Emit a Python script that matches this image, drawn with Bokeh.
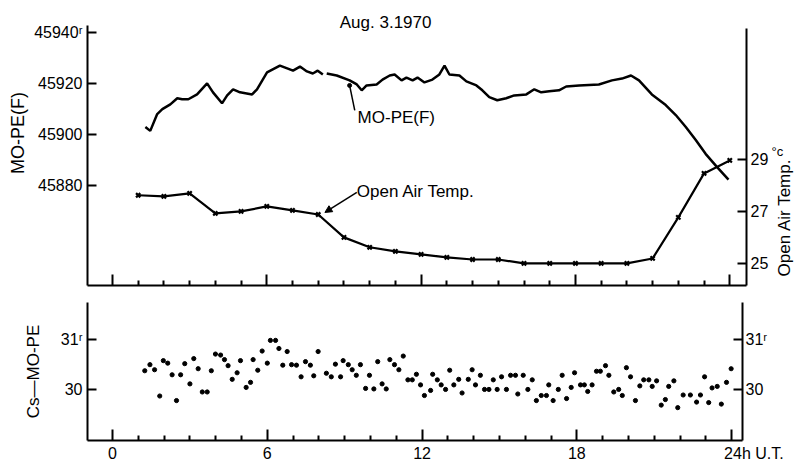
import math
import numpy as np
from bokeh.plotting import figure
from bokeh.layouts import column, row
from bokeh.models import Range1d, LinearAxis, FixedTicker, Label, Arrow, NormalHead
from bokeh.embed import file_html
from bokeh.resources import INLINE

# ---- data -------------------------------------------------------------
# MO-PE(F) frequency record (hours U.T., value); NaN marks the break in the trace
mope_hour = [1.28, 1.47, 1.74, 1.94, 2.25, 2.52, 2.71, 2.95, 3.29, 3.68, 3.91, 4.26,
             4.46, 4.69, 4.96, 5.43, 5.62, 6.01, 6.51, 6.82, 7.02, 7.29, 7.56, 7.79,
             7.98, 8.18, 8.25,
             8.33, 8.72, 9.22, 9.50, 9.69, 9.88, 10.27, 10.50, 10.78, 10.97, 11.24,
             11.43, 11.67, 11.86, 12.13, 12.44, 12.71, 12.91, 13.10, 13.49, 13.76,
             14.15, 14.38, 14.65, 14.96, 15.31, 15.62, 16.09, 16.40, 16.67, 16.98,
             17.36, 17.64, 18.14, 18.91, 19.42, 19.81, 20.16, 20.47, 20.97, 21.51,
             21.90, 22.29, 22.67, 23.06, 23.49, 23.95]
mope_value = [45902.9, 45901.4, 45908.0, 45909.9, 45911.8, 45914.2, 45913.8, 45913.8,
              45915.7, 45920.0, 45916.5, 45912.2, 45915.3, 45917.7, 45916.5, 45915.7,
              45917.7, 45924.3, 45927.0, 45925.8, 45925.0, 45926.6, 45924.7, 45923.9,
              45925.0, 45923.5, np.nan,
              45923.9, 45923.1, 45921.2, 45919.6, 45917.3, 45919.2, 45919.6, 45921.5,
              45923.1, 45923.5, 45921.2, 45922.3, 45921.2, 45922.3, 45920.4, 45921.5,
              45923.5, 45927.0, 45923.5, 45923.1, 45920.8, 45919.2, 45917.3, 45914.6,
              45913.4, 45914.2, 45915.3, 45915.7, 45917.7, 45916.5, 45916.9, 45917.3,
              45918.8, 45919.2, 45919.6, 45921.2, 45921.9, 45923.1, 45921.2, 45915.7,
              45911.5, 45907.6, 45902.9, 45897.9, 45892.4, 45887.4, 45882.3]

# Open air temperature, hourly (deg C)
temp_hour = list(range(1, 25))
temp_value = [27.62, 27.58, 27.69, 26.92, 27.00, 27.19, 27.04, 26.88, 26.00, 25.62,
              25.46, 25.35, 25.23, 25.15, 25.15, 25.00, 25.00, 25.00, 25.00, 25.00,
              25.19, 26.77, 28.46, 28.96]

# Cs - MO-PE differences
cs_hour = [1.25, 1.45, 1.63, 1.83, 1.97, 2.14, 2.31, 2.48, 2.64, 2.80, 3.00, 3.15,
           3.32, 3.48, 3.67, 3.83, 3.99, 4.19, 4.34, 4.48, 4.64, 4.83, 4.96, 5.18,
           5.35, 5.45, 5.63, 5.80, 6.00, 6.12, 6.32, 6.45, 6.60, 6.77, 6.94, 7.13,
           7.31, 7.48, 7.67, 7.80, 7.97, 8.29, 8.48, 8.64, 8.84, 8.94, 9.14, 9.29,
           9.45, 9.61, 9.81, 9.96, 10.13, 10.28, 10.45, 10.61, 10.75, 10.93, 11.10,
           11.27, 11.45, 11.62, 11.78, 11.94, 12.09, 12.33, 12.41, 12.59, 12.74,
           12.91, 13.07, 13.23, 13.42, 13.55, 13.79, 13.94, 14.07, 14.26, 14.42,
           14.59, 14.76, 14.91, 15.08, 15.27, 15.43, 15.62, 15.71, 15.92, 16.10,
           16.27, 16.43, 16.62, 16.82, 16.91, 17.08, 17.28, 17.43, 17.60, 17.78,
           17.91, 18.14, 18.29, 18.42, 18.59, 18.76, 18.91, 19.11, 19.24, 19.43,
           19.62, 19.76, 19.92, 20.08, 20.27, 20.44, 20.59, 20.79, 20.92, 21.09,
           21.27, 21.43, 21.56, 21.76, 21.91, 22.12, 22.40, 22.64, 22.79, 22.95,
           23.11, 23.24, 23.44, 23.60, 23.80, 23.98]
cs_value = [30.38, 30.50, 30.40, 29.88, 30.58, 30.53, 30.30, 29.79, 30.30, 30.52, 30.12,
            30.62, 30.42, 29.96, 29.96, 30.38, 30.71, 30.69, 30.60, 30.48, 30.21, 30.34,
            30.58, 30.05, 30.15, 30.60, 30.39, 30.77, 30.53, 30.98, 30.98, 30.82, 30.49,
            30.76, 30.50, 30.49, 30.26, 30.56, 30.49, 30.28, 30.76, 30.33, 30.26, 30.51,
            30.26, 30.58, 30.50, 30.40, 30.29, 30.50, 30.03, 30.29, 30.02, 30.56, 30.12,
            30.02, 30.60, 30.50, 30.40, 30.67, 30.20, 30.20, 30.31, 30.10, 29.89, 29.99,
            30.31, 30.20, 30.10, 30.01, 30.39, 30.10, 30.21, 29.94, 30.21, 30.40, 30.10,
            30.29, 30.01, 30.01, 30.20, 30.01, 30.26, 30.01, 30.29, 30.29, 29.92, 30.29,
            30.01, 30.20, 29.79, 29.89, 29.89, 30.10, 29.79, 30.01, 30.29, 29.83, 30.05,
            30.34, 30.10, 30.10, 29.97, 30.10, 30.37, 30.37, 30.48, 30.29, 29.96, 30.01,
            29.89, 30.44, 30.26, 29.79, 30.08, 30.20, 30.20, 30.07, 30.18, 29.70, 29.81,
            30.07, 30.18, 29.65, 29.90, 29.90, 29.76, 29.90, 30.26, 29.75, 30.04, 30.07,
            29.72, 30.15, 30.42]

hour_ticks = [0, 6, 12, 18, 24]
hour_minor = [h for h in range(1, 24) if h % 6]
mope_ticks = [45880, 45900, 45920, 45940]
temp_ticks = [25, 27, 29]
cs_ticks = [30, 31]

FONT = "Liberation Sans"
SIZE = "16px"
NBSP = "\u00a0"

MOPE_RANGE = (45840.8, 45952.5)
TEMP_RANGE = (24.15, 35.11)


def style_axis(ax, ticks, minor=None, tick_in=9):
    ax.ticker = FixedTicker(ticks=ticks, minor_ticks=minor or [])
    ax.axis_line_width = 2
    ax.axis_line_color = "black"
    ax.major_tick_line_width = 2
    ax.major_tick_line_color = "black"
    ax.minor_tick_line_width = 2
    ax.minor_tick_line_color = "black"
    ax.major_tick_in = tick_in
    ax.major_tick_out = 0
    ax.minor_tick_in = 5
    ax.minor_tick_out = 0
    ax.major_label_text_font = FONT
    ax.major_label_text_font_size = SIZE
    ax.major_label_text_color = "black"
    ax.major_label_standoff = 5
    ax.axis_label_text_font = FONT
    ax.axis_label_text_font_style = "normal"
    ax.axis_label_text_color = "black"


def add_text(p, text, x, y, size=SIZE, align="left", baseline="middle", angle=0.0,
             style="normal", yr="default"):
    p.add_layout(Label(x=x, y=y, text=text, text_font=FONT, text_font_size=size,
                       text_align=align, text_baseline=baseline, angle=angle,
                       text_font_style=style, text_color="black", y_range_name=yr))


# ---- upper panel: MO-PE(F) and open air temperature ----------------------
# the frame reaches the top of the canvas so the date fits inside it;
# axis bounds keep the vertical axis lines at their own length
top = figure(width=771, height=290, x_range=Range1d(-0.97, 24.65),
             y_range=Range1d(*MOPE_RANGE), output_backend="svg",
             toolbar_location=None, min_border_left=87, min_border_right=23,
             min_border_top=0, min_border_bottom=5)
top.extra_y_ranges = {"temp": Range1d(*TEMP_RANGE)}
top.grid.visible = False
top.outline_line_color = None

style_axis(top.xaxis[0], hour_ticks, hour_minor, tick_in=11)
top.xaxis.major_label_overrides = {t: "" for t in hour_ticks}
top.xaxis.major_label_text_font_size = "1px"
top.xaxis.major_label_standoff = 0

left_top = top.yaxis[0]
style_axis(left_top, mope_ticks)
left_top.bounds = (45840.8, 45942.7)
left_top.major_label_overrides = {45940: "45940\u02b3"}
left_top.axis_label = NBSP * 4 + "MO-PE(F)"
left_top.axis_label_text_font_size = "18px"
left_top.axis_label_standoff = 3

temp_axis = LinearAxis(y_range_name="temp")
style_axis(temp_axis, temp_ticks)
temp_axis.bounds = (24.15, 34.04)
temp_axis.major_label_standoff = 4
top.add_layout(temp_axis, "right")

top.line(mope_hour, mope_value, line_color="black", line_width=2.5)
top.line(temp_hour, temp_value, line_color="black", line_width=2.2, y_range_name="temp")
top.scatter(temp_hour, temp_value, marker="x", size=6, line_color="black",
            line_width=2.2, y_range_name="temp")

add_text(top, "Aug. 3.1970", 10.62, 45943.9, size="17px", align="center")

# curve labels with their leaders
add_text(top, "MO-PE(F)", 9.53, 45906.8, size="17px")
top.segment(x0=[9.22], y0=[45919.2], x1=[9.42], y1=[45909.4],
            line_color="black", line_width=1.5)
top.scatter([9.22], [45919.2], size=4, color="black")
add_text(top, "Open Air Temp.", 9.50, 27.77, size="17px", yr="temp")
top.add_layout(Arrow(end=NormalHead(size=7, fill_color="black", line_color="black"),
                     x_start=9.50, y_start=27.73, x_end=8.26, y_end=26.96,
                     line_width=1.5, line_color="black", y_range_name="temp"))

# narrow strip right of the upper panel: unit mark and temperature axis title
strip = figure(width=24, height=290, x_range=Range1d(25.54, 26.47),
               y_range=Range1d(*TEMP_RANGE), output_backend="svg",
               toolbar_location=None, x_axis_type=None, y_axis_type=None,
               min_border_left=0, min_border_right=0, min_border_top=0,
               min_border_bottom=5)
strip.grid.visible = False
strip.outline_line_color = None
add_text(strip, "\u00b0c", 25.54, 29.30, size="13px")
add_text(strip, "Open Air Temp.", 26.05, 26.77, size="17px", align="center",
         angle=math.pi / 2)

# ---- lower panel: Cs - MO-PE ------------------------------------------
bot = figure(width=795, height=174, x_range=Range1d(-0.97, 24.42),
             y_range=Range1d(29.0, 31.73), output_backend="svg",
             toolbar_location=None, min_border_left=87, min_border_right=53,
             min_border_top=12, min_border_bottom=21)
bot.grid.visible = False
bot.outline_line_color = None

style_axis(bot.xaxis[0], hour_ticks, hour_minor, tick_in=11)
bot.xaxis.major_label_standoff = 4
# the hour unit trails the last tick label; padding keeps "24" centred on its tick
bot.xaxis.major_label_overrides = {24: NBSP * 10 + "24h U.T."}

left_bot = bot.yaxis[0]
style_axis(left_bot, cs_ticks)
left_bot.major_label_overrides = {31: "31\u02b3"}
left_bot.axis_label = "Cs\u2014MO-PE"
left_bot.axis_label_text_font_size = "17px"
left_bot.axis_label_standoff = 15

cs_right = LinearAxis()
style_axis(cs_right, cs_ticks)
cs_right.major_label_standoff = 3
cs_right.major_label_overrides = {31: "31\u02b3"}
bot.add_layout(cs_right, "right")

bot.scatter(cs_hour, cs_value, size=4.2, color="black")

layout = column(row(top, strip, spacing=0), bot, spacing=0)
open("out.html", "w").write(file_html(layout, INLINE))
